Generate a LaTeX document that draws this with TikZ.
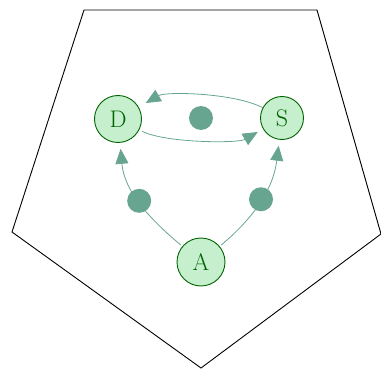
\documentclass[tikz,border=0pt]{standalone}
\usepackage{fontspec}
\usetikzlibrary{arrows.meta}
\definecolor{nodefill}{HTML}{C6EFCE}
\definecolor{nodeline}{HTML}{006400}
\definecolor{edgecol}{HTML}{68A591}
\tikzset{
  state/.style={circle, draw=nodeline, fill=nodefill, text=nodeline, line width=0.9pt, inner sep=0pt, font=\fontsize{24}{28}\selectfont},
  dotnode/.style={circle, fill=edgecol, inner sep=0pt, minimum size=24pt},
  conn/.style={draw=edgecol, line width=0.8pt, -{Triangle[length=15pt,width=13pt]}},
  frame/.style={draw=black, line width=0.9pt}
}
\begin{document}
\begin{tikzpicture}[x=1pt, y=-1pt]
\useasboundingbox (0,0) rectangle (381,369);
\draw[frame] (84,10) -- (317,10) -- (381,234) -- (201,368) -- (12,232) -- cycle;
\node[state, minimum size=47pt] (D) at (118,119) {D};
\node[state, minimum size=43pt] (S) at (282,118) {S};
\node[state, minimum size=48pt] (A) at (201,262) {A};
\node[dotnode] (m) at (201,118) {};
\draw[conn, shorten <=3pt, shorten >=6pt] (D) to[out=-27, in=210, looseness=0.6] (S);
\draw[conn, shorten >=8pt] (S) to[out=152, in=30, looseness=0.65] (D);
\draw[conn, shorten <=2pt, shorten >=6pt] (A) to[out=140, in=-85] node[dotnode, pos=0.5] (p) {} (D);
\draw[conn, shorten <=2pt, shorten >=6pt] (A) to[out=40, in=-97] node[dotnode, pos=0.5] (q) {} (S);
\end{tikzpicture}
\end{document}
